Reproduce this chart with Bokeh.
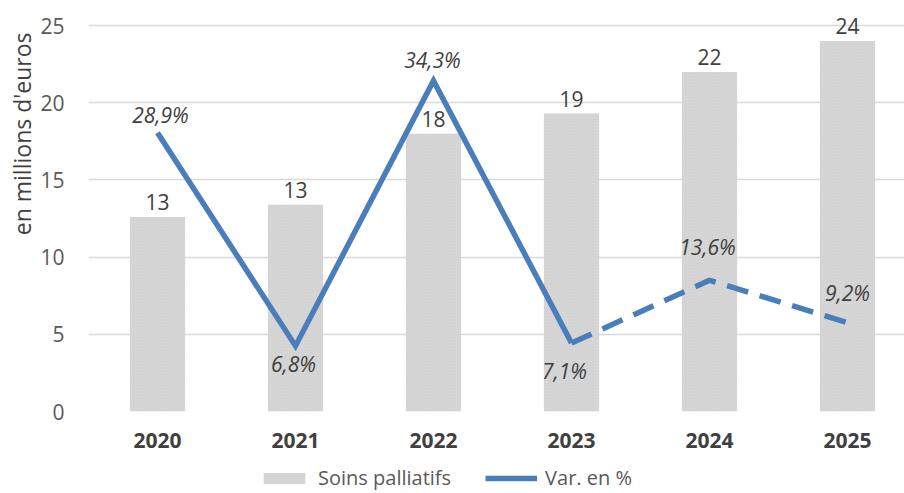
from bokeh.plotting import figure
from bokeh.models import (ColumnDataSource, Range1d, Legend, LegendItem, FixedTicker, Title)
from bokeh.layouts import column
from bokeh.embed import file_html
from bokeh.resources import INLINE
from bokeh.core.properties import value

years = ["2020", "2021", "2022", "2023", "2024", "2025"]
soins = [12.6, 13.4, 18.0, 19.3, 22.0, 24.0]
var_pct = [28.9, 6.8, 34.3, 7.1, 13.6, 9.2]

FONT = "Open Sans"
TXT = "#404040"
BLUE = "#4a7ebb"
BAR = "#d6d6d6"

x = list(range(len(years)))
p = figure(width=904, height=455, output_backend="svg", toolbar_location=None,
           x_range=Range1d(-0.5, 5.413), y_range=Range1d(0, 26.5),
           min_border_left=88, min_border_right=0, min_border_top=2, min_border_bottom=44)
p.outline_line_color = None
p.extra_y_ranges = {"pct": Range1d(0, 26.5 / 0.625)}

src = ColumnDataSource(dict(x=x, y=soins, lab=[f"{v:.0f}" for v in soins]))
p.vbar(x="x", top="y", width=0.4, source=src, fill_color=BAR,
       line_color=None, hatch_pattern="dot", hatch_color="#cfcfcf", hatch_scale=3, hatch_weight=1)
p.text(x="x", y="y", text="lab", source=src, text_align="center", text_baseline="bottom",
       y_offset=-7, text_font=value(FONT), text_font_size="21px", text_color=TXT)

# line: solid part 2020-2023, dashed 2023-2025
p.line(x=x[:4], y=var_pct[:4], y_range_name="pct", line_color=BLUE, line_width=5.5,
       line_join="miter")
p.line(x=x[3:], y=var_pct[3:], y_range_name="pct", line_color=BLUE, line_width=5.5,
       line_dash="22 12")

xoff = [3, -2, -1, -7, -2, 0]
yoff = [-18, 18, -21, 28, -33, -30]
lsrc = ColumnDataSource(dict(x=x, y=var_pct, lab=[f"{v:.1f}%".replace(".", ",") for v in var_pct],
                             xo=xoff, yo=yoff))
p.text(x="x", y="y", text="lab", source=lsrc, y_range_name="pct", text_align="center",
       text_baseline="middle", x_offset="xo", y_offset="yo", text_font=value(FONT),
       text_font_size="21px", text_font_style="italic", text_color=TXT)

# axes
p.xaxis.ticker = FixedTicker(ticks=x)
p.xaxis.major_label_overrides = {i: y for i, y in enumerate(years)}
p.xaxis.axis_line_color = None
p.xaxis.major_tick_line_color = None
p.xaxis.minor_tick_line_color = None
p.xaxis.major_label_text_font = FONT
p.xaxis.major_label_text_font_size = "21px"
p.xaxis.major_label_text_font_style = "bold"
p.xaxis.major_label_text_color = TXT
p.xaxis.major_label_standoff = 15

p.yaxis.ticker = FixedTicker(ticks=[0, 5, 10, 15, 20, 25])
p.yaxis.axis_line_color = None
p.yaxis.major_tick_line_color = None
p.yaxis.minor_tick_line_color = None
p.yaxis.major_label_text_font = FONT
p.yaxis.major_label_text_font_size = "21px"
p.yaxis.major_label_text_color = "#595959"
p.yaxis.major_label_standoff = 18

ytitle = Title(text="en millions d'euros", align="right", offset=30,
               text_font=FONT, text_font_size="23px", text_font_style="normal",
               text_color=TXT, standoff=0)
p.add_layout(ytitle, "left")

p.xgrid.grid_line_color = None
p.ygrid.ticker = FixedTicker(ticks=[0, 5, 10, 15, 20, 25])
p.ygrid.grid_line_color = "#d9d9d9"
p.ygrid.grid_line_width = 1.5

# legend strip
q = figure(width=904, height=38, output_backend="svg", toolbar_location=None,
           x_range=Range1d(0, 1), y_range=Range1d(0, 1),
           min_border_left=0, min_border_right=0, min_border_top=0, min_border_bottom=0)
q.outline_line_color = None
q.axis.visible = False
q.grid.visible = False
lb = q.vbar(x=[5], top=[1], width=0.1, fill_color=BAR, line_color=None,
            hatch_pattern="dot", hatch_color="#cfcfcf", hatch_scale=3, hatch_weight=1)
ll = q.line(x=[5, 6], y=[0, 0], line_color=BLUE, line_width=5.5)
legend = Legend(items=[LegendItem(label="Soins palliatifs", renderers=[lb]),
                       LegendItem(label="Var. en %", renderers=[ll])],
                orientation="horizontal", location=(170, 2),
                label_text_font=FONT, label_text_font_size="20px", label_text_color="#595959",
                glyph_width=52, glyph_height=14, spacing=34, border_line_color=None,
                background_fill_alpha=0, padding=4, margin=0, label_standoff=8)
q.add_layout(legend, "center")

open("out.html", "w").write(file_html(column(p, q, spacing=0), INLINE))
